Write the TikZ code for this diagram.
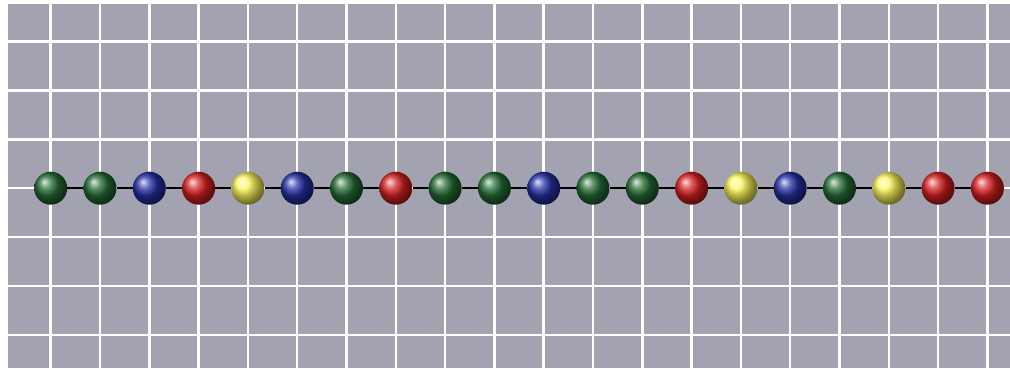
\documentclass[tikz,border=0pt]{standalone}
\usepackage{xcolor}
\definecolor{beadgreen}{RGB}{36,108,52}
\definecolor{beadblue}{RGB}{36,48,165}
\definecolor{beadred}{RGB}{215,32,32}
\definecolor{beadyellow}{RGB}{255,248,90}
\definecolor{boardgray}{RGB}{162,162,177}
\usetikzlibrary{positioning}
\tikzset{
  bead/.style={circle,inner sep=0pt,minimum size=33pt,shade},
  gridline/.style={white,line width=2.5pt},
  thread/.style={black,line width=2.5pt}
}

\begin{document}
\begin{tikzpicture}[x=1pt,y=-1pt]
  \useasboundingbox (0,0) rectangle (1010,369);

  %% Board
  \fill[boardgray] (8,4) rectangle (1010,368);

  %% Grid lines
  \foreach \i in {0,...,19}
    \draw[gridline] ({50.7+49.3*\i},4) -- ({50.7+49.3*\i},368);
  \foreach \j in {0,...,6}
    \draw[gridline] (8,{41.5+48.9*\j}) -- (1010,{41.5+48.9*\j});

  %% Beads on the middle line
  \foreach \c [count=\n] in {green,green,blue,red,yellow,blue,green,red,green,green,
                             blue,green,green,red,yellow,blue,green,yellow,red,red}
    \node[bead,ball color=bead\c] (b\n) at ({50.7+49.3*(\n-1)},188.2) {};

  %% Thread joining the beads
  \foreach \n [remember=\n as \m (initially 1)] in {2,...,20}
    \draw[thread] (b\m) -- (b\n);
\end{tikzpicture}
\end{document}
